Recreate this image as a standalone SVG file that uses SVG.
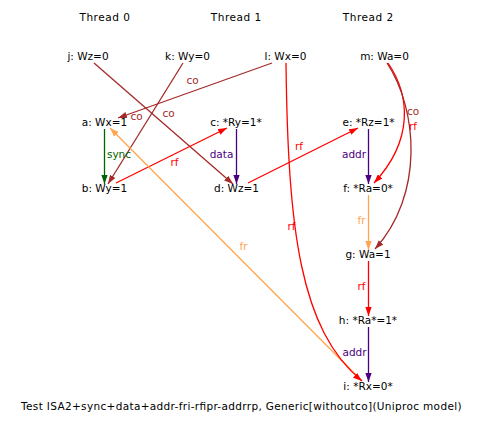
<svg xmlns="http://www.w3.org/2000/svg" width="486" height="427" viewBox="0 0 486 427">
<style>
text{font-family:"DejaVu Sans",sans-serif;font-size:10.5px;text-anchor:middle;fill:#000}
.e{fill:none;stroke-width:1.3}
.co{stroke:#a52a2a}.rf{stroke:#ff0000}.sync{stroke:#006400}.dep{stroke:#4b0082}.fr{stroke:#ffa54f}
.tco{fill:#a52a2a}.trf{fill:#ff0000}.tsync{fill:#006400}.tdep{fill:#4b0082}.tfr{fill:#ffa54f}
</style>
<defs>
<marker id="mco" viewBox="0 0 10 7" refX="10" refY="3.5" markerWidth="9" markerHeight="6.3" markerUnits="userSpaceOnUse" orient="auto"><path d="M0,0L10,3.5L0,7z" fill="#a52a2a"/></marker>
<marker id="mrf" viewBox="0 0 10 7" refX="10" refY="3.5" markerWidth="9" markerHeight="6.3" markerUnits="userSpaceOnUse" orient="auto"><path d="M0,0L10,3.5L0,7z" fill="#ff0000"/></marker>
<marker id="msync" viewBox="0 0 10 7" refX="10" refY="3.5" markerWidth="9" markerHeight="6.3" markerUnits="userSpaceOnUse" orient="auto"><path d="M0,0L10,3.5L0,7z" fill="#006400"/></marker>
<marker id="mdep" viewBox="0 0 10 7" refX="10" refY="3.5" markerWidth="9" markerHeight="6.3" markerUnits="userSpaceOnUse" orient="auto"><path d="M0,0L10,3.5L0,7z" fill="#4b0082"/></marker>
<marker id="mfr" viewBox="0 0 10 7" refX="10" refY="3.5" markerWidth="9" markerHeight="6.3" markerUnits="userSpaceOnUse" orient="auto"><path d="M0,0L10,3.5L0,7z" fill="#ffa54f"/></marker>
</defs>
<rect width="486" height="427" fill="#fff"/>
<g id="threads">
<text x="104.7" y="21" textLength="50.5" lengthAdjust="spacing">Thread 0</text>
<text x="236" y="21" textLength="50.5" lengthAdjust="spacing">Thread 1</text>
<text x="368" y="21" textLength="50.5" lengthAdjust="spacing">Thread 2</text>
</g>
<g id="edges">
<path class="e co" d="M94,63L233,184" marker-end="url(#mco)"/>
<path class="e co" d="M183,63L108,184" marker-end="url(#mco)"/>
<path class="e co" d="M272,63L118,118" marker-end="url(#mco)"/>
<path class="e sync" d="M104.5,129L104.5,184" marker-end="url(#msync)"/>
<path class="e dep" d="M236.5,129L236.5,184" marker-end="url(#mdep)"/>
<path class="e rf" d="M116,183L227,128" marker-end="url(#mrf)"/>
<path class="e rf" d="M248,183L358,128" marker-end="url(#mrf)"/>
<path class="e dep" d="M368.5,129L368.5,184" marker-end="url(#mdep)"/>
<path class="e fr" d="M368.5,195L368.5,250" marker-end="url(#mfr)"/>
<path class="e rf" d="M368.5,261L368.5,316" marker-end="url(#mrf)"/>
<path class="e dep" d="M368.5,327L368.5,382" marker-end="url(#mdep)"/>
<path class="e fr" d="M362,381L110,128" marker-end="url(#mfr)"/>
<path class="e rf" d="M286,63C288,230 300,330 362,381" marker-end="url(#mrf)"/>
<path class="e rf" d="M388,63C410,95 414,140 374,183" marker-end="url(#mrf)"/>
<path class="e co" d="M387,63C418,110 424,195 375,249" marker-end="url(#mco)"/>
<text class="tco" x="192.5" y="84">co</text>
<text class="tco" x="168.5" y="117">co</text>
<text class="tco" x="136.5" y="120">co</text>
<text class="tsync" x="119" y="157.5">sync</text>
<text class="tdep" x="221.5" y="158">data</text>
<text class="trf" x="174.5" y="165.5">rf</text>
<text class="trf" x="299" y="150">rf</text>
<text class="tdep" x="354" y="158">addr</text>
<text class="tco" x="413" y="115">co</text>
<text class="trf" x="413" y="130">rf</text>
<text class="trf" x="291.5" y="230">rf</text>
<text class="tfr" x="361.5" y="224">fr</text>
<text class="trf" x="361.5" y="290">rf</text>
<text class="tdep" x="354.5" y="356">addr</text>
<text class="tfr" x="243.5" y="250">fr</text>
</g>
<g id="j"><text x="88" y="60">j: Wz=0</text></g>
<g id="k"><text x="187.5" y="60">k: Wy=0</text></g>
<g id="l"><text x="285.5" y="60">l: Wx=0</text></g>
<g id="m"><text x="384.5" y="60">m: Wa=0</text></g>
<g id="a"><text x="104.5" y="126">a: Wx=1</text></g>
<g id="c"><text x="236" y="126">c: *Ry=1*</text></g>
<g id="e"><text x="368.5" y="126">e: *Rz=1*</text></g>
<g id="b"><text x="104.5" y="192">b: Wy=1</text></g>
<g id="d"><text x="236.5" y="192">d: Wz=1</text></g>
<g id="f"><text x="368" y="192">f: *Ra=0*</text></g>
<g id="g"><text x="368" y="258">g: Wa=1</text></g>
<g id="h"><text x="368" y="324">h: *Ra*=1*</text></g>
<g id="i"><text x="368" y="390">i: *Rx=0*</text></g>
<g id="title"><text x="241.3" y="410" textLength="440.5" lengthAdjust="spacing">Test ISA2+sync+data+addr-fri-rfipr-addrrp, Generic[withoutco](Uniproc model)</text></g>
</svg>
